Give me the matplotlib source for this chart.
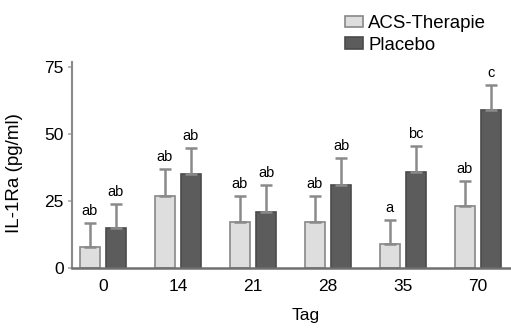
import matplotlib
matplotlib.use("Agg")
import matplotlib.pyplot as plt
import numpy as np

plt.rcParams['font.family'] = ['Liberation Sans', 'DejaVu Sans']

days = ["0", "14", "21", "28", "35", "70"]
acs_mean = [7.8, 27, 17, 17, 9, 23]
acs_err = [9, 10, 10, 10, 9, 9.5]
plc_mean = [15, 35, 21, 31, 36, 59]
plc_err = [9, 10, 10, 10, 9.5, 9.5]
acs_labels = ["ab", "ab", "ab", "ab", "a", "ab"]
plc_labels = ["ab", "ab", "ab", "ab", "bc", "c"]

fig = plt.figure(figsize=(5.11, 3.28), dpi=100)
ax = fig.add_axes([0.141, 0.183, 0.859, 0.628])

x = np.arange(len(days))
w = 0.27
off = 0.175
light = "#dedede"
dark = "#5c5c5c"
ecol = "#8a8a8a"

ax.bar(x - off, acs_mean, w, color=light, edgecolor="#888888", linewidth=1.2,
       yerr=[np.zeros(len(x)), acs_err], error_kw=dict(ecolor=ecol, elinewidth=1.8, capsize=4, capthick=1.8),
       label="ACS-Therapie", zorder=2)
ax.bar(x + off, plc_mean, w, color=dark, edgecolor="#4a4a4a", linewidth=1.2,
       yerr=[np.zeros(len(x)), plc_err], error_kw=dict(ecolor=ecol, elinewidth=1.8, capsize=4, capthick=1.8),
       label="Placebo", zorder=2)

for i in range(len(x)):
    ax.text(x[i] - off, acs_mean[i] + acs_err[i] + 1.8, acs_labels[i], ha="center", va="bottom", fontsize=10.5)
    ax.text(x[i] + off, plc_mean[i] + plc_err[i] + 1.8, plc_labels[i], ha="center", va="bottom", fontsize=10.5)

ax.set_xlim(-0.41, 5.44)
ax.set_ylim(0, 77)
ax.set_yticks([0, 25, 50, 75])
ax.set_xticks(x)
ax.set_xticklabels(days)
ax.tick_params(axis="x", length=0, pad=8, labelsize=12.5)
ax.tick_params(axis="y", length=3, color="#aaaaaa", width=1.2, labelsize=12.5, pad=3)
for s in ["top", "right"]:
    ax.spines[s].set_visible(False)
ax.spines["left"].set_color("#8a8a8a")
ax.spines["left"].set_linewidth(1.5)
ax.spines["bottom"].set_color("#707070")
ax.spines["bottom"].set_linewidth(1.8)

ax.set_ylabel("IL-1Ra (pg/ml)", fontsize=13.5)
ax.yaxis.set_label_coords(-0.112, 0.46)
ax.set_xlabel("Tag", fontsize=12.5)
ax.xaxis.set_label_coords(0.533, -0.194)

leg = fig.legend(loc="upper left", bbox_to_anchor=(345 / 511, 1 - 15 / 328), frameon=False,
                 fontsize=13.4, handlelength=0.95, handleheight=0.6, handletextpad=0.3,
                 labelspacing=0.25, borderaxespad=0, borderpad=0)

fig.savefig("out.png", dpi=100)
